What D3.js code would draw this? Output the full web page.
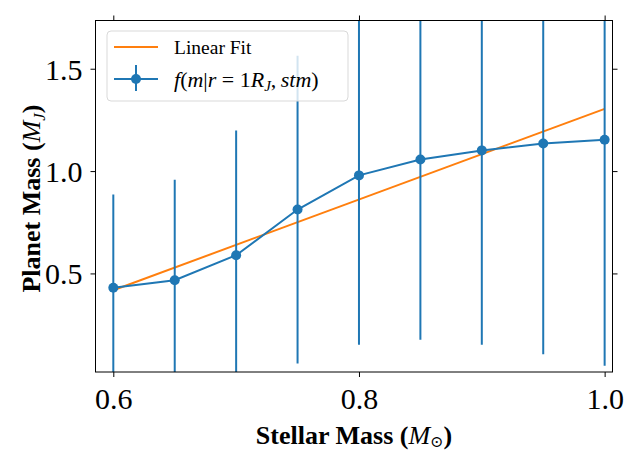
<!DOCTYPE html>
<html><head><meta charset="utf-8">
<script src="https://cdn.jsdelivr.net/npm/d3@7"></script>
<style>body{margin:0;background:#fff}svg{display:block}</style>
</head><body>
<script>
// Data
const stellarMass = [0.6, 0.65, 0.7, 0.75, 0.8, 0.85, 0.9, 0.95, 1.0];
const planetMass  = [0.430, 0.467, 0.589, 0.812, 0.979, 1.057, 1.101, 1.135, 1.153];
const planetErr   = [0.455, 0.491, 0.609, 0.752, 0.827, 0.881, 0.949, 1.030, 1.104];
const fitX = [0.6, 1.0];
const fitY = [0.418, 1.304];
const xTicks = [0.6, 0.8, 1.0];
const yTicks = [0.5, 1.0, 1.5];

(function () {
const W = 639, H = 452;
const L = 95.5, R = 612.5, T = 20.5, B = 372;
const blue = "#1f77b4", orange = "#ff7f0e";
const serif = "'Liberation Serif', 'DejaVu Serif', serif";

const svg = d3.select("body").append("svg").attr("width", W).attr("height", H);
const x = d3.scaleLinear().domain([0.5855, 1.0064]).range([L, R]);
const y = d3.scaleLinear().domain([0.0185, 1.7356]).range([B, T]);

svg.append("defs").append("clipPath").attr("id", "clip")
  .append("rect").attr("x", L).attr("y", T).attr("width", R - L).attr("height", B - T);

const plot = svg.append("g").attr("clip-path", "url(#clip)");

// Linear fit
plot.append("path")
  .datum(fitX.map((d, i) => [d, fitY[i]]))
  .attr("d", d3.line().x(d => x(d[0])).y(d => y(d[1])))
  .attr("fill", "none").attr("stroke", orange).attr("stroke-width", 2);

// Error bars
plot.selectAll("line.err").data(stellarMass).join("line").attr("class", "err")
  .attr("x1", d => x(d)).attr("x2", d => x(d))
  .attr("y1", (d, i) => y(planetMass[i] - planetErr[i]))
  .attr("y2", (d, i) => y(planetMass[i] + planetErr[i]))
  .attr("stroke", blue).attr("stroke-width", 2);

// Line
plot.append("path")
  .datum(stellarMass.map((d, i) => [d, planetMass[i]]))
  .attr("d", d3.line().x(d => x(d[0])).y(d => y(d[1])))
  .attr("fill", "none").attr("stroke", blue).attr("stroke-width", 2);

plot.selectAll("circle").data(stellarMass).join("circle")
  .attr("cx", d => x(d)).attr("cy", (d, i) => y(planetMass[i])).attr("r", 5)
  .attr("fill", blue);

// Axes
const tl = 5;
const gBottom = svg.append("g").attr("transform", `translate(0,${B})`)
  .call(d3.axisBottom(x).tickValues(xTicks).tickFormat(d3.format(".1f")).tickSize(tl).tickPadding(6));
const gTop = svg.append("g").attr("transform", `translate(0,${T})`)
  .call(d3.axisTop(x).tickValues(xTicks).tickFormat("").tickSize(tl));
const gLeft = svg.append("g").attr("transform", `translate(${L},0)`)
  .call(d3.axisLeft(y).tickValues(yTicks).tickFormat(d3.format(".1f")).tickSize(tl).tickPadding(8));
const gRight = svg.append("g").attr("transform", `translate(${R},0)`)
  .call(d3.axisRight(y).tickValues(yTicks).tickFormat("").tickSize(tl));
[gBottom, gTop, gLeft, gRight].forEach(g => {
  g.select(".domain").remove();
  g.selectAll(".tick line").attr("stroke", "#000").attr("stroke-width", 1);
  g.selectAll(".tick text").attr("font-family", serif).attr("font-size", 30).attr("fill", "#000");
});
gBottom.selectAll(".tick text").attr("dy", "0.85em");
gLeft.selectAll(".tick text").attr("dy", "0.35em");

svg.append("rect").attr("x", L).attr("y", T).attr("width", R - L).attr("height", B - T)
  .attr("fill", "none").attr("stroke", "#000").attr("stroke-width", 1);

// Axis labels
const xl = svg.append("text").attr("x", (L + R) / 2).attr("y", 444)
  .attr("text-anchor", "middle").attr("font-family", serif).attr("font-size", 26)
  .attr("font-weight", "bold").attr("fill", "#000");
xl.append("tspan").text("Stellar Mass (");
xl.append("tspan").attr("font-style", "italic").attr("font-weight", "normal").text("M");
xl.append("tspan").attr("font-size", 16).attr("font-weight", "normal").attr("dy", 3).text("⊙");
xl.append("tspan").attr("dy", -3).text(")");

const yl = svg.append("text").attr("transform", `translate(40,198.5) rotate(-90)`)
  .attr("text-anchor", "middle").attr("font-family", serif).attr("font-size", 26)
  .attr("font-weight", "bold").attr("fill", "#000");
yl.append("tspan").text("Planet Mass (");
yl.append("tspan").attr("font-style", "italic").attr("font-weight", "normal").text("M");
yl.append("tspan").attr("font-style", "italic").attr("font-weight", "normal").attr("font-size", 17).attr("dy", 5).text("J");
yl.append("tspan").attr("dy", -5).text(")");

// Legend
const lg = svg.append("g");
lg.append("rect").attr("x", 107).attr("y", 31).attr("width", 241).attr("height", 70)
  .attr("rx", 4).attr("fill", "#fff").attr("fill-opacity", 0.8)
  .attr("stroke", "#d9d9d9").attr("stroke-width", 1);
lg.append("line").attr("x1", 114).attr("x2", 158).attr("y1", 47).attr("y2", 47)
  .attr("stroke", orange).attr("stroke-width", 2);
lg.append("text").attr("x", 174).attr("y", 54).attr("font-family", serif).attr("font-size", 19.5)
  .attr("fill", "#000").text("Linear Fit");
lg.append("line").attr("x1", 114).attr("x2", 158).attr("y1", 79).attr("y2", 79)
  .attr("stroke", blue).attr("stroke-width", 2);
lg.append("line").attr("x1", 136).attr("x2", 136).attr("y1", 65).attr("y2", 91)
  .attr("stroke", blue).attr("stroke-width", 2);
lg.append("circle").attr("cx", 136).attr("cy", 79).attr("r", 5).attr("fill", blue);
const mt = lg.append("text").attr("x", 174).attr("y", 87).attr("font-family", serif)
  .attr("font-size", 22).attr("fill", "#000");
const parts = [["f", 1], ["(", 0], ["m", 1], ["|", 0], ["r", 1], ["\u2005=\u20051", 0], ["R", 1]];
parts.forEach(p => mt.append("tspan").attr("font-style", p[1] ? "italic" : "normal").text(p[0]));
mt.append("tspan").attr("font-style", "italic").attr("font-size", 15).attr("dy", 4).text("J");
mt.append("tspan").attr("dy", -4).text(",\u2009");
mt.append("tspan").attr("font-style", "italic").text("stm");
mt.append("tspan").text(")");
})();
</script>
</body></html>
